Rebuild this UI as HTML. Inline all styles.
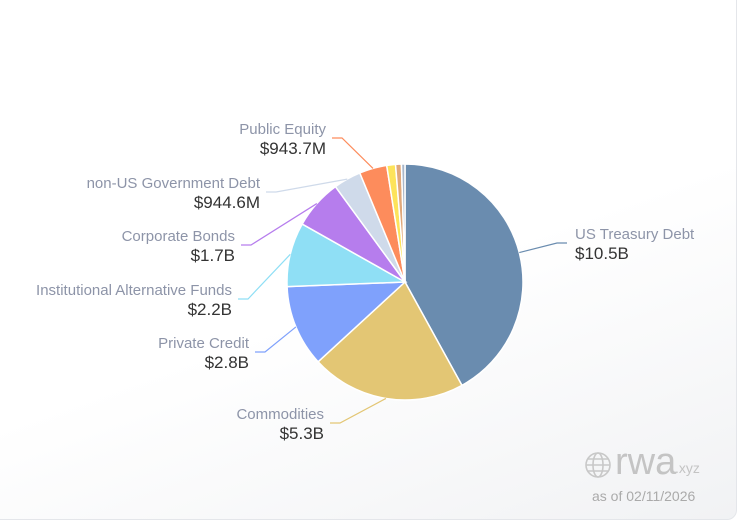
<!DOCTYPE html>
<html><head><meta charset="utf-8"><style>
body{margin:0;width:741px;height:522px;overflow:hidden;background:#fff;font-family:"Liberation Sans",sans-serif}
#card{position:absolute;left:-10px;top:-10px;width:745px;height:528px;border:1px solid #e4e6ea;border-radius:10px;background:linear-gradient(160deg,#fff 55%,#f1f2f4 100%)}
</style></head><body>
<div id="card"></div>
<svg id="chart" width="741" height="522" style="position:absolute;left:0;top:0"></svg>
<div style="position:absolute;left:584px;top:448px;color:#c4c4c4;">
<svg width="28" height="28" viewBox="0 0 28 28" style="position:absolute;left:0;top:3px"><g fill="none" stroke="#c8c8c8" stroke-width="1.6"><circle cx="14" cy="14" r="12"/><ellipse cx="14" cy="14" rx="5" ry="12"/><line x1="2" y1="14" x2="26" y2="14"/><line x1="4" y1="8" x2="24" y2="8"/><line x1="4" y1="20" x2="24" y2="20"/></g></svg>
<span style="position:absolute;left:31px;top:-7px;font-size:38px;color:#c4c4c4">rwa</span><span style="position:absolute;left:91px;top:12px;font-size:14px;color:#c4c4c4">.xyz</span>
</div>
<div style="position:absolute;left:592px;top:488px;font-size:14px;color:#aaa">as of 02/11/2026</div>
<script>
const categories=["US Treasury Debt","Commodities","Private Credit","Institutional Alternative Funds","Corporate Bonds","non-US Government Debt","Public Equity","Other A","Other B","Other C"];
const values=[10.5,5.3,2.8,2.2,1.7,0.9446,0.9437,0.3,0.2,0.12];
const valueLabels=["$10.5B","$5.3B","$2.8B","$2.2B","$1.7B","$944.6M","$943.7M","","",""];
const colors=["#6a8caf","#e3c674","#7fa1fc","#8fdff5","#b67ded","#cfdaea","#fd8c5c","#fde35a","#e0a87a","#a9b7c9"];
const svg=document.getElementById('chart');
const NS='http://www.w3.org/2000/svg';
const cx=405,cy=282,R=118;
const total=values.reduce((a,b)=>a+b,0);
function pt(a,r){return [cx+r*Math.sin(a),cy-r*Math.cos(a)];}
let a0=0;
const mids=[];
values.forEach((v,i)=>{
  const a1=a0+v/total*2*Math.PI;
  const p0=pt(a0,R),p1=pt(a1,R);
  const large=(a1-a0)>Math.PI?1:0;
  const p=document.createElementNS(NS,'path');
  p.setAttribute('d',`M${cx},${cy}L${p0[0]},${p0[1]}A${R},${R} 0 ${large} 1 ${p1[0]},${p1[1]}Z`);
  p.setAttribute('fill',colors[i]);p.setAttribute('stroke','#fff');p.setAttribute('stroke-width','1.5');
  
  
  svg.appendChild(p);
  mids.push((a0+a1)/2);
  a0=a1;
});
const labelPos=[[575,239,'start'],[324,419,'end'],[249,348,'end'],[232,295,'end'],[235,241,'end'],[260,188,'end'],[326,134,'end']];
labelPos.forEach((lp,i)=>{
  const m=mids[i];
  const e=pt(m,R);
  const right=lp[2]==='start';
  const lx=right?lp[0]-8:lp[0]+6, ly=lp[1]+4;
  const bx=right?lx-10:lx+10;
  const l=document.createElementNS(NS,'polyline');
  l.setAttribute('points',`${e[0]},${e[1]} ${bx},${ly} ${lx},${ly}`);
  l.setAttribute('fill','none');l.setAttribute('stroke',colors[i]);l.setAttribute('stroke-width','1.2');
  
  
  svg.appendChild(l);
  const t=document.createElementNS(NS,'text');
  t.setAttribute('x',lp[0]);t.setAttribute('y',lp[1]);t.setAttribute('text-anchor',lp[2]);
  t.setAttribute('font-size','15');t.setAttribute('fill','#8d94a8');t.textContent=categories[i];
  
  
  svg.appendChild(t);
  const t2=document.createElementNS(NS,'text');
  t2.setAttribute('x',lp[0]);
  t2.setAttribute('y',lp[1]+20);t2.setAttribute('text-anchor',lp[2]);
  t2.setAttribute('font-size','17');t2.setAttribute('fill','#333');t2.textContent=valueLabels[i];
  
  
  svg.appendChild(t2);
});
</script>
</body></html>
